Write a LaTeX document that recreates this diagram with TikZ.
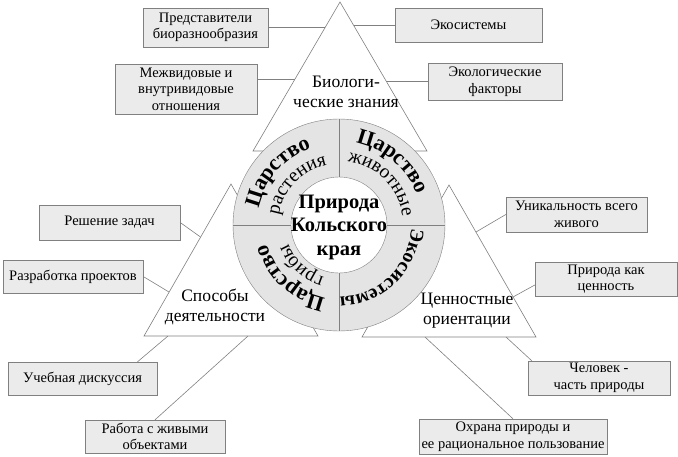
\documentclass[tikz,border=0pt]{standalone}
\usepackage{fontspec}
\setmainfont{Liberation Serif}
\usetikzlibrary{calc,decorations.text}
\definecolor{boxfill}{HTML}{EBEBEB}
\definecolor{ringfill}{HTML}{E4E4E4}
\definecolor{linegray}{HTML}{808080}

\begin{document}
\begin{tikzpicture}[x=1pt, y=-1pt,
    box/.style={draw=linegray, fill=boxfill, align=center, inner sep=1pt,
      font=\fontsize{14.5}{16.5}\selectfont},
    link/.style={draw=linegray, line width=0.6pt},
    tri/.style={draw=linegray, fill=white, line width=0.6pt},
    part/.style={align=center, font=\fontsize{17.5}{20}\selectfont},
    arctext/.style={decorate, decoration={text along path, text align=center, text={#1}}}]
  \useasboundingbox (0,0) rectangle (678,456);

  \coordinate (ta) at (340,2);   \coordinate (tl) at (253,151); \coordinate (tr) at (427,151);
  \coordinate (la) at (231,184); \coordinate (ll) at (144,336); \coordinate (lr) at (318,336);
  \coordinate (ra) at (449,185); \coordinate (rl) at (362,337); \coordinate (rr) at (536,337);
  \draw[tri] (ta) -- (tl) -- (tr) -- cycle;
  \draw[tri] (la) -- (ll) -- (lr) -- cycle;
  \draw[tri] (ra) -- (rl) -- (rr) -- cycle;

  \coordinate (c) at (339,225);
  \draw[draw=linegray, fill=ringfill] (c) circle[radius=106pt];
  \draw[draw=linegray, fill=white] (c) circle[radius=48pt];
  \foreach \a in {0,90,180,270}
    \draw[linegray] ($(c)+(\a:48pt)$) -- ($(c)+(\a:106pt)$);

  \path[arctext={|\bfseries\fontsize{22}{24}\selectfont|Царство}]
    ($(c)+(209:82pt)$) arc[start angle=209, end angle=69, radius=82pt];
  \path[arctext={|\fontsize{19.5}{22}\selectfont|растения}]
    ($(c)+(206:61pt)$) arc[start angle=206, end angle=66, radius=61pt];
  \path[arctext={|\bfseries\fontsize{22}{24}\selectfont|Царство}]
    ($(c)+(120:84pt)$) arc[start angle=120, end angle=-20, radius=84pt];
  \path[arctext={|\fontsize{19.5}{22}\selectfont|животные}]
    ($(c)+(115:64pt)$) arc[start angle=115, end angle=-25, radius=64pt];
  \path[arctext={|\bfseries\fontsize{19.5}{22}\selectfont|Экосистемы}]
    ($(c)+(24:72pt)$) arc[start angle=24, end angle=-116, radius=72pt];
  \path[arctext={|\bfseries\fontsize{22}{24}\selectfont|Царство}]
    ($(c)+(-63:74pt)$) arc[start angle=-63, end angle=-203, radius=74pt];
  \path[arctext={|\fontsize{19.5}{22}\selectfont|грибы}]
    ($(c)+(-63:54pt)$) arc[start angle=-63, end angle=-203, radius=54pt];

  \node[align=center, font=\bfseries\fontsize{20.5}{23.5}\selectfont] (kola) at (339,227) {Природа\\Кольского\\края};

  \node[part] (bio) at (346,92) {Биологи-\\ческие знания};
  \node[part] (spos) at (215,307) {Способы\\деятельности};
  \node[part] (cenn) at (467,311) {Ценностные\\ориентации};

  \node[box, minimum width=125pt, minimum height=39pt] (pred) at (205.5,27.5) {Представители\\биоразнообразия};
  \node[box, minimum width=147pt, minimum height=34pt] (eko) at (468.5,25) {Экосистемы};
  \node[box, minimum width=142pt, minimum height=50pt] (mezh) at (186,89) {Межвидовые и\\внутривидовые\\отношения};
  \node[box, minimum width=134pt, minimum height=37pt] (ekol) at (495,81.5) {Экологические\\факторы};
  \node[box, minimum width=141pt, minimum height=35pt] (resh) at (109.5,222.5) {Решение задач};
  \node[box, minimum width=140pt, minimum height=33pt] (razr) at (73,276.5) {Разработка проектов};
  \node[box, minimum width=149pt, minimum height=33pt] (ucheb) at (82.5,378.5) {Учебная дискуссия};
  \node[box, minimum width=140pt, minimum height=33pt] (rabota) at (155,436.5) {Работа с живыми\\объектами};
  \node[box, minimum width=141pt, minimum height=35pt] (unik) at (576.5,214.5) {Уникальность всего\\живого};
  \node[box, minimum width=142pt, minimum height=34pt] (prir) at (606,279) {Природа как\\ценность};
  \node[box, minimum width=142pt, minimum height=34pt] (chel) at (599,378) {Человек -\\часть природы};
  \node[box, minimum width=188pt, minimum height=35pt] (ohr) at (513,436.5) {Охрана природы и\\ее рациональное пользование};

  \coordinate (e1) at (325,27.5);  \coordinate (e2) at (354,25);
  \coordinate (e3) at (295,79);    \coordinate (e4) at (386,81.5);
  \coordinate (e5) at (200.5,237); \coordinate (e6) at (169,292);
  \coordinate (e7) at (168,336);   \coordinate (e8) at (248,336);
  \coordinate (e9) at (476,232);   \coordinate (e10) at (513,297);
  \coordinate (e11) at (506,337);  \coordinate (e12) at (425,337);

  \draw[link] (pred.east) -- (e1);
  \draw[link] (eko.west) -- (e2);
  \draw[link] ([yshift=10pt]mezh.east) -- (e3);
  \draw[link] (ekol.west) -- (e4);
  \draw[link] (resh.east) -- (e5);
  \draw[link] (razr.east) -- (e6);
  \draw[link] ([xshift=55pt]ucheb.north) -- (e7);
  \draw[link] (rabota.north) -- (e8);
  \draw[link] (unik.west) -- (e9);
  \draw[link] ([yshift=-6pt]prir.west) -- (e10);
  \draw[link] ([xshift=4pt]chel.north west) -- (e11);
  \draw[link] (ohr.north) -- (e12);
\end{tikzpicture}
\end{document}
